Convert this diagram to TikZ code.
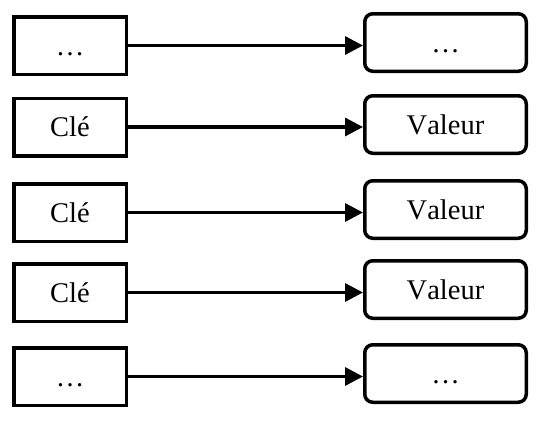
\documentclass[tikz,border=0pt]{standalone}
\usepackage{fontspec}
\setmainfont{Liberation Serif}[Kerning=Off]
\usetikzlibrary{arrows.meta}
\begin{document}
\begin{tikzpicture}[x=1pt,y=-1pt,
  keybox/.style={draw, line width=3.5pt, minimum width=112.5pt, minimum height=57.5pt, inner sep=0pt,
    font=\fontsize{28.5}{32}\selectfont, text height=19pt, text depth=0pt},
  valbox/.style={draw, line width=3.5pt, rounded corners=8pt, minimum width=161.5pt, minimum height=57.5pt, inner sep=0pt,
    font=\fontsize{28.5}{32}\selectfont, text height=19pt, text depth=0pt},
  link/.style={line width=3.3pt, -{Triangle[length=18pt,width=18pt]}}]
\useasboundingbox (0,0) rectangle (546,426);
\node[keybox] (k1) at (70,45.5) {…};
\node[keybox] (k2) at (70,127) {Clé};
\node[keybox] (k3) at (70,212.5) {Clé};
\node[keybox] (k4) at (70,292.5) {Clé};
\node[keybox] (k5) at (70,376.5) {…};
\node[valbox] (v1) at (445.5,42.5) {…};
\node[valbox] (v2) at (445.5,124.5) {Valeur};
\node[valbox] (v3) at (445.5,209.5) {Valeur};
\node[valbox] (v4) at (445.5,289.5) {Valeur};
\node[valbox] (v5) at (445.5,373.5) {…};
\foreach \i in {1,...,5}{
  \draw[link] (k\i.east) -- (k\i.east -| v\i.west);
}
\end{tikzpicture}
\end{document}
